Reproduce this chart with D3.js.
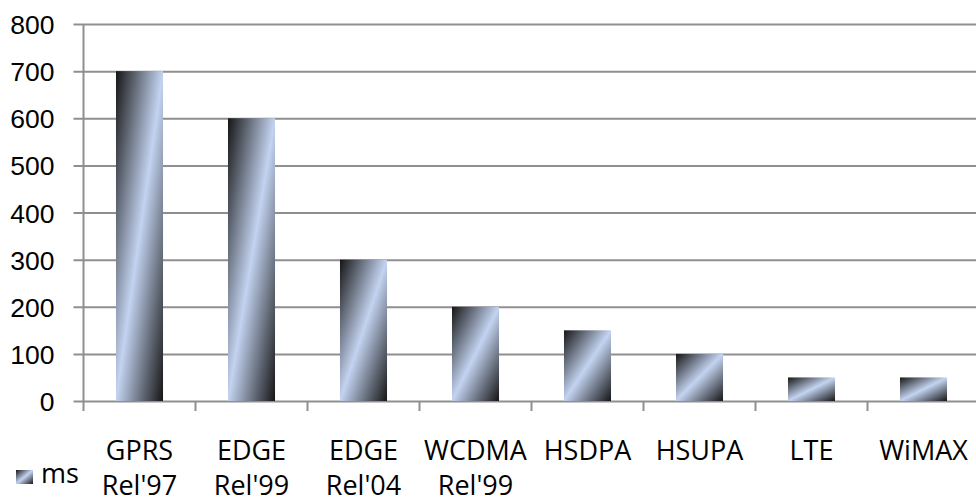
<!DOCTYPE html>
<html>
<head>
<meta charset="utf-8">
<script src="https://cdn.jsdelivr.net/npm/d3@7"></script>
<style>
  body { margin: 0; background: #fff; }
  svg { display: block; font-family: 'Open Sans', 'Noto Sans', sans-serif; }
</style>
</head>
<body>
<svg width="976" height="500"></svg>
<script>
// data
const categories = ['GPRS|Rel\'97', 'EDGE|Rel\'99', 'EDGE|Rel\'04', 'WCDMA|Rel\'99', 'HSDPA', 'HSUPA', 'LTE', 'WiMAX'];
const values = [700, 600, 300, 200, 150, 100, 50, 50];
const yTicks = [0, 100, 200, 300, 400, 500, 600, 700, 800];
const seriesName = 'ms';

const svg = d3.select('svg');
const plotLeft = 83.5, plotTop = 24, plotBottom = 401;
const step = 112;
const plotRight = plotLeft + step * categories.length;

const x = d3.scaleBand().domain(categories).range([plotLeft, plotRight]).paddingInner(0.58).paddingOuter(0.29);
const y = d3.scaleLinear().domain([0, 800]).range([plotBottom, plotTop]);

// bar gradient: dark corners, light stripe along the anti-diagonal
const grad = svg.append('defs').append('linearGradient')
  .attr('id', 'barGrad')
  .attr('x1', 0).attr('y1', 0).attr('x2', 1).attr('y2', 1);
grad.append('stop').attr('offset', '0%').attr('stop-color', '#151515');
grad.append('stop').attr('offset', '50%').attr('stop-color', '#c3d3f0');
grad.append('stop').attr('offset', '100%').attr('stop-color', '#151515');

const gridColor = '#8f8f8f';

// gridlines + y axis
const yAxis = d3.axisLeft(y).tickValues(yTicks).tickSizeInner(-(976 - plotLeft + 10)).tickSizeOuter(0).tickPadding(29);
const gy = svg.append('g').attr('transform', `translate(${plotLeft},0)`).call(yAxis);
gy.select('.domain').remove();
gy.selectAll('.tick line').attr('x1', -10).attr('stroke', gridColor).attr('stroke-width', 2);
gy.selectAll('.tick text').attr('font-size', 26.5).attr('fill', '#000').attr('dy', '0.36em');
svg.append('line').attr('x1', plotLeft).attr('x2', plotLeft).attr('y1', plotTop).attr('y2', plotBottom)
  .attr('stroke', gridColor).attr('stroke-width', 2);

// category ticks (between bands)
const boundaries = d3.range(categories.length + 1).map(i => plotLeft + i * step);
svg.append('g').selectAll('line').data(boundaries).join('line')
  .attr('x1', d => d).attr('x2', d => d).attr('y1', plotBottom).attr('y2', plotBottom + 10)
  .attr('stroke', gridColor).attr('stroke-width', 2);

// bars
svg.append('g').selectAll('rect').data(values).join('rect')
  .attr('x', (d, i) => x(categories[i]))
  .attr('width', x.bandwidth())
  .attr('y', d => y(d))
  .attr('height', d => plotBottom - y(d))
  .attr('fill', 'url(#barGrad)');

// category labels
const labels = svg.append('g').selectAll('text').data(categories).join('text')
  .attr('x', d => x(d) + x.bandwidth() / 2)
  .attr('y', 460)
  .attr('text-anchor', 'middle')
  .attr('font-size', 27)
  .attr('fill', '#000');
labels.each(function (d) {
  const parts = d.split('|');
  d3.select(this).selectAll('tspan').data(parts).join('tspan')
    .attr('x', d3.select(this).attr('x'))
    .attr('dy', (p, j) => j === 0 ? 0 : 35)
    .text(p => p);
});

// legend
svg.append('rect').attr('x', 16).attr('y', 470).attr('width', 17).attr('height', 14).attr('fill', 'url(#barGrad)');
svg.append('text').attr('x', 41).attr('y', 483).attr('font-size', 27).attr('fill', '#000').text(seriesName);
</script>
</body>
</html>
